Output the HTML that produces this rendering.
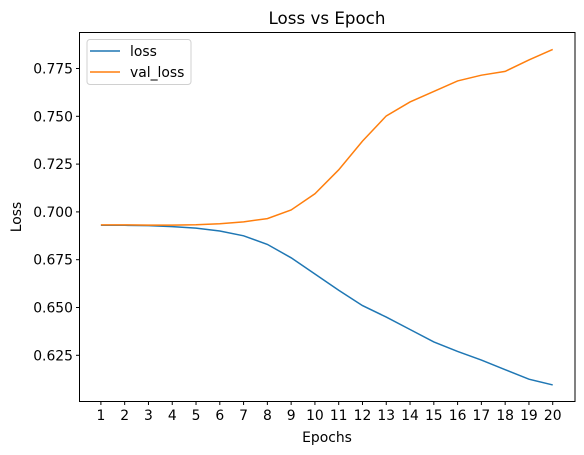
<!DOCTYPE html>
<html><head><meta charset="utf-8"><style>
body{margin:0;background:#fff}
svg{display:block;font-family:"DejaVu Sans","Liberation Sans",sans-serif}
</style></head><body>
<svg id="c" width="584" height="455">
<rect x="0" y="0" width="584" height="455" fill="#fff"/>
<text x="327" y="24" font-size="16.7" text-anchor="middle">Loss vs Epoch</text>
<g id="plot"></g>
<rect x="79.5" y="32.5" width="495.5" height="369" fill="none" stroke="#000" stroke-width="1"/>
<text x="327" y="442" font-size="13.9" text-anchor="middle">Epochs</text>
<text transform="translate(21,217) rotate(-90)" font-size="13.9" text-anchor="middle">Loss</text>
<g>
<rect x="87" y="39.5" width="104" height="45" rx="3" fill="#fff" stroke="#ccc" opacity="0.9"/>
<line x1="90" y1="51" x2="120" y2="51" stroke="#1f77b4" stroke-width="1.5"/>
<text x="130" y="56" font-size="13.9">loss</text>
<line x1="90" y1="72" x2="120" y2="72" stroke="#ff7f0e" stroke-width="1.5"/>
<text x="130" y="77" font-size="13.9">val_loss</text>
</g>
</svg>
<script>
const epochs=[1,2,3,4,5,6,7,8,9,10,11,12,13,14,15,16,17,18,19,20];
const lossValues=[0.693,0.693,0.6928,0.6923,0.6915,0.690,0.6875,0.683,0.676,0.6675,0.659,0.651,0.645,0.6385,0.632,0.627,0.6225,0.6175,0.6125,0.6095];
const valLossValues=[0.6932,0.6932,0.6931,0.6931,0.6933,0.6938,0.6948,0.6965,0.701,0.7095,0.722,0.737,0.7502,0.7575,0.763,0.7685,0.7715,0.7735,0.7795,0.785];
const yTicks=[0.625,0.650,0.675,0.700,0.725,0.750,0.775];
const NS="http://www.w3.org/2000/svg";
const g=document.getElementById('plot');
function xs(e){return 100.9+(e-1)*23.78;}
function ys(v){return 68.5+(0.775-v)/0.025*47.8;}
function mk(t,a){const el=document.createElementNS(NS,t);for(const k in a)el.setAttribute(k,a[k]);g.appendChild(el);return el;}
epochs.forEach(e=>{
 const t=mk('line',{x1:xs(e),x2:xs(e),y1:401.5,y2:405,stroke:'#000'});
 
 
 const l=mk('text',{x:xs(e),y:420,'font-size':13.9,'text-anchor':'middle'});
 l.textContent=e;
 
 
});
yTicks.forEach(v=>{
 const t=mk('line',{x1:76,x2:79.5,y1:ys(v),y2:ys(v),stroke:'#000'});
 
 
 const l=mk('text',{x:73,y:ys(v)+5,'font-size':13.9,'text-anchor':'end'});
 l.textContent=v.toFixed(3);
 
 
});
function line(vals,color,name){
 const p=mk('polyline',{points:vals.map((v,i)=>xs(epochs[i])+','+ys(v)).join(' '),fill:'none',stroke:color,'stroke-width':1.5});
 
 
}
line(lossValues,'#1f77b4','loss-line');
line(valLossValues,'#ff7f0e','val-loss-line');
</script>
</body></html>
